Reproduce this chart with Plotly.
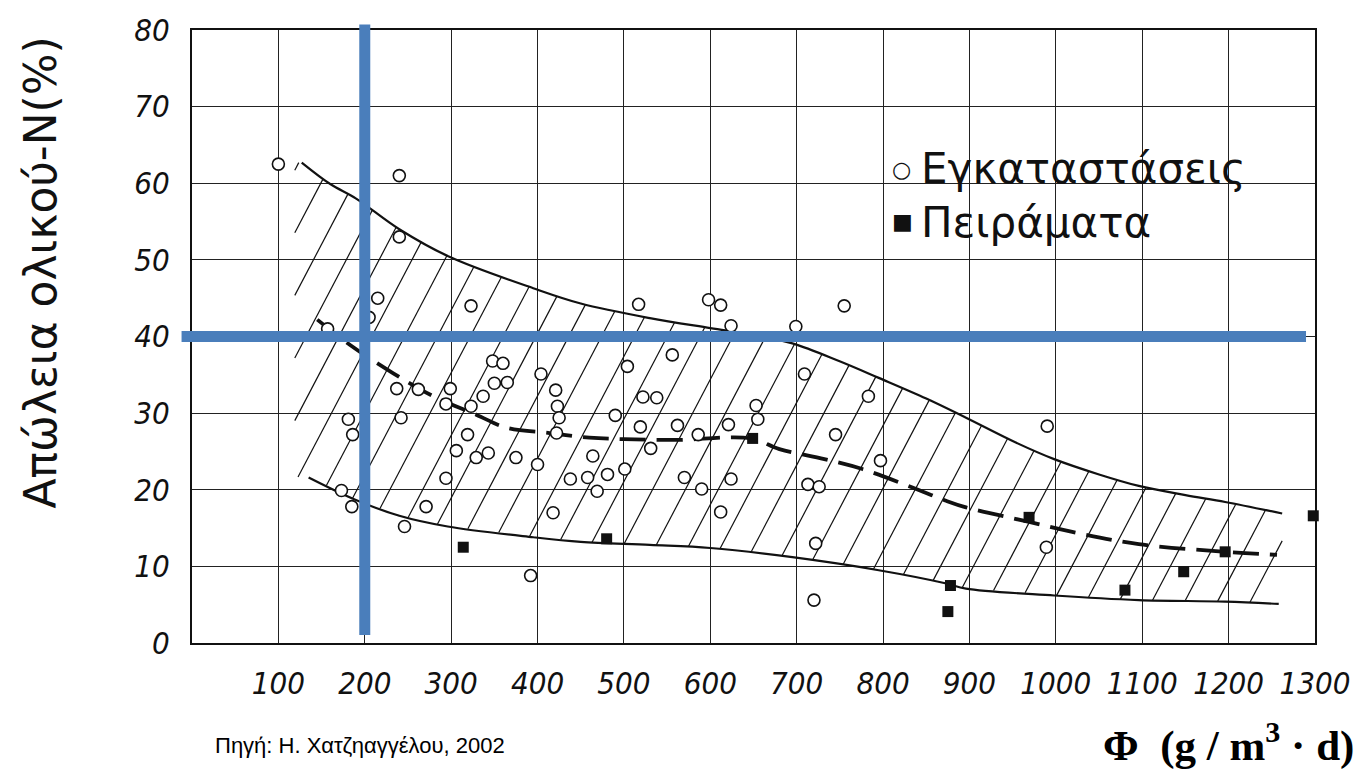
import numpy as np
import plotly.graph_objects as go

# ---------------- data ----------------
# Εγκαταστάσεις (open circles)
plant_x = [100, 240, 240, 215, 323, 205, 157, 348, 360, 404, 350, 365, 237, 262, 299, 421,
           294, 337, 323, 423, 425, 422, 181, 186, 242, 319, 306, 329, 343, 375, 400, 294,
           464, 438, 458, 469, 173, 185, 271, 246, 418, 392, 504, 522, 490, 519, 531, 481,
           501, 517, 598, 612, 755, 624, 699, 556, 709, 538, 653, 655, 783, 562, 621, 586,
           745, 797, 570, 624, 590, 713, 726, 612, 722, 720, 990, 989]
plant_y = [62.5, 61.0, 53.0, 45.0, 44.0, 42.5, 41.0, 36.8, 36.5, 35.1, 33.9, 34.0, 33.2, 33.1,
           33.2, 33.0, 31.2, 32.2, 30.9, 30.9, 29.4, 27.4, 29.2, 27.2, 29.4, 27.2, 25.1, 24.2,
           24.8, 24.2, 23.3, 21.5, 24.4, 21.4, 21.6, 19.8, 19.9, 17.8, 17.8, 15.2, 17.0, 8.8,
           36.1, 32.1, 29.7, 28.2, 25.4, 22.0, 22.7, 44.2, 44.8, 44.1, 44.0, 41.4, 41.3, 37.6,
           35.1, 32.0, 31.0, 29.2, 32.2, 28.4, 28.5, 27.2, 27.2, 23.8, 21.6, 21.4, 20.1, 20.7,
           20.4, 17.1, 13.0, 5.6, 28.3, 12.5]

# Πειράματα (filled squares)
exp_x = [314, 480, 649, 878, 875, 969, 1080, 1148, 1196, 1298]
exp_y = [12.5, 13.6, 26.7, 7.5, 4.1, 16.4, 6.9, 9.3, 11.9, 16.6]

# envelope curves and mean (dashed) curve
upper_x = [127, 160, 190, 240, 298, 395, 450, 530, 600, 650, 695, 749, 795, 850, 896, 953,
           998, 1050, 1096, 1150, 1196, 1262]
upper_y = [62.7, 59.9, 58.0, 54.0, 50.4, 46.3, 44.3, 42.4, 41.1, 40.2, 39.1, 36.8, 34.6, 31.9,
           29.4, 26.2, 24.0, 22.0, 20.5, 19.3, 18.4, 16.9]
lower_x = [135, 187, 240, 296, 395, 450, 530, 600, 695, 795, 872, 896, 998, 1096, 1196, 1258]
lower_y = [21.6, 18.8, 16.6, 15.2, 13.8, 13.2, 12.8, 12.4, 11.2, 9.5, 7.8, 7.1, 6.2, 5.6, 5.4, 5.1]
mean_x = [145, 183, 233, 283, 329, 364, 414, 460, 500, 560, 647, 680, 732, 776, 834, 872, 896,
          969, 1019, 1096, 1196, 1256]
mean_y = [42.2, 38.9, 35.2, 32.0, 29.8, 28.1, 27.4, 26.8, 26.6, 26.5, 26.7, 25.3, 24.0, 22.7,
          20.3, 18.6, 17.7, 15.8, 14.5, 12.9, 11.9, 11.5]

x_ticks = [100, 200, 300, 400, 500, 600, 700, 800, 900, 1000, 1100, 1200, 1300]
y_ticks = [0, 10, 20, 30, 40, 50, 60, 70, 80]

# highlighted reference values (blue cross lines)
ref_x = 200
ref_y = 40

# ---------------- style ----------------
BLUE = "#4A7EBB"
INK = "#111111"
TICK_FONT = dict(family="Liberation Sans Narrow, DejaVu Sans Condensed, Liberation Sans, Arial",
                 size=31, color=INK, style="italic")

fig = go.Figure()

# hatching inside the envelope (derived from the envelope curves)
hatch_slope = 0.215     # y units per x unit
hatch_step = 38         # x units between hatch lines
xs = np.linspace(min(upper_x[0], lower_x[0]) - 8, max(upper_x[-1], lower_x[-1]), 4000)
up = np.interp(xs, upper_x, upper_y)
lo = np.interp(xs, lower_x, lower_y)
hx, hy = [], []
for c in np.arange(-320, 1300, hatch_step):
    yl = hatch_slope * (xs - c)
    m = (yl >= lo) & (yl <= up)
    idx = np.where(m)[0]
    if len(idx) < 2:
        continue
    hx += [float(xs[idx[0]]), float(xs[idx[-1]]), None]
    hy += [float(yl[idx[0]]), float(yl[idx[-1]]), None]
fig.add_trace(go.Scatter(x=hx, y=hy, mode="lines", line=dict(color=INK, width=1.2),
                         hoverinfo="skip", showlegend=False))

# envelope curves
fig.add_trace(go.Scatter(x=upper_x, y=upper_y, mode="lines", line=dict(color=INK, width=2.2, shape="spline"),
                         showlegend=False))
fig.add_trace(go.Scatter(x=lower_x, y=lower_y, mode="lines", line=dict(color=INK, width=2.2, shape="spline"),
                         showlegend=False))
fig.add_trace(go.Scatter(x=mean_x, y=mean_y, mode="lines",
                         line=dict(color=INK, width=3.8, shape="spline", dash="26px,11px"),
                         showlegend=False))

# points
fig.add_trace(go.Scatter(x=plant_x, y=plant_y, mode="markers", name="Εγκαταστάσεις",
                         marker=dict(symbol="circle", size=12, color="white",
                                     line=dict(color=INK, width=1.6)),
                         showlegend=False))
fig.add_trace(go.Scatter(x=exp_x, y=exp_y, mode="markers", name="Πειράματα",
                         marker=dict(symbol="square", size=11, color=INK), cliponaxis=False,
                         showlegend=False))

# white patch behind the in-plot key (erases the grid there)
fig.add_shape(type="rect", xref="paper", yref="paper", x0=0.6157, x1=0.998, y0=0.650, y1=0.840,
              fillcolor="white", line=dict(width=0), layer="between")

# key symbols and texts
KEY_FONT = dict(family="DejaVu Sans, Noto Sans", size=42, color=INK)
SYM_FONT = dict(family="DejaVu Sans, Noto Sans", size=22, color=INK)
fig.add_annotation(xref="paper", yref="paper", x=0.6215, y=0.772, xanchor="left", yanchor="middle",
                   text="○", showarrow=False, font=SYM_FONT)
fig.add_annotation(xref="paper", yref="paper", x=0.6215, y=0.688, xanchor="left", yanchor="middle",
                   text="■", showarrow=False, font=SYM_FONT)
fig.add_annotation(xref="paper", yref="paper", x=0.6475, y=0.774, xanchor="left", yanchor="middle",
                   text="Εγκαταστάσεις", showarrow=False, font=KEY_FONT)
fig.add_annotation(xref="paper", yref="paper", x=0.6475, y=0.686, xanchor="left", yanchor="middle",
                   text="Πειράματα", showarrow=False, font=KEY_FONT)

# blue highlight lines
fig.add_shape(type="line", xref="x", yref="paper", x0=ref_x, x1=ref_x, y0=0.013, y1=1.009,
              line=dict(color=BLUE, width=11), layer="above")
fig.add_shape(type="line", xref="paper", yref="y", x0=-0.0093, x1=0.992, y0=ref_y, y1=ref_y,
              line=dict(color=BLUE, width=11), layer="above")

# y-axis title
fig.add_annotation(xref="paper", yref="paper", x=-0.135, y=0.605, xanchor="center", yanchor="middle",
                   text="Απώλεια ολικού-N(%)", textangle=-90, showarrow=False,
                   font=dict(family="DejaVu Sans, Noto Sans", size=44, color=INK))

# source note
fig.add_annotation(xref="paper", yref="paper", x=0.0187, y=-0.167, xanchor="left", yanchor="middle",
                   text="Πηγή: Η. Χατζηαγγέλου, 2002", showarrow=False,
                   font=dict(family="Liberation Sans, Arial", size=22, color="black"))

# x-axis title
fig.add_annotation(xref="paper", yref="paper", x=1.0365, y=-0.163, xanchor="right", yanchor="middle",
                   text="Φ  (g / m<sup>3</sup> · d)", showarrow=False,
                   font=dict(family="Liberation Serif, Times New Roman", size=43, color="black",
                             weight="bold"))

fig.update_xaxes(range=[0, 1300], tickvals=x_ticks, ticktext=[str(v) for v in x_ticks],
                 showgrid=True, gridcolor="#222", gridwidth=1.3, zeroline=False,
                 showline=True, mirror=True, linecolor=INK, linewidth=2.2,
                 ticks="", ticklabelstandoff=12, tickfont=TICK_FONT)
fig.update_yaxes(range=[0, 80], tickvals=y_ticks, ticktext=[str(v) for v in y_ticks],
                 showgrid=True, gridcolor="#222", gridwidth=1.3, zeroline=False,
                 showline=True, mirror=True, linecolor=INK, linewidth=2.2,
                 ticks="", ticklabelstandoff=14, tickfont=TICK_FONT)

fig.update_layout(width=1362, height=773, margin=dict(l=192, r=46, t=27, b=130),
                  paper_bgcolor="white", plot_bgcolor="white", showlegend=False)

fig.write_html("out.html")
